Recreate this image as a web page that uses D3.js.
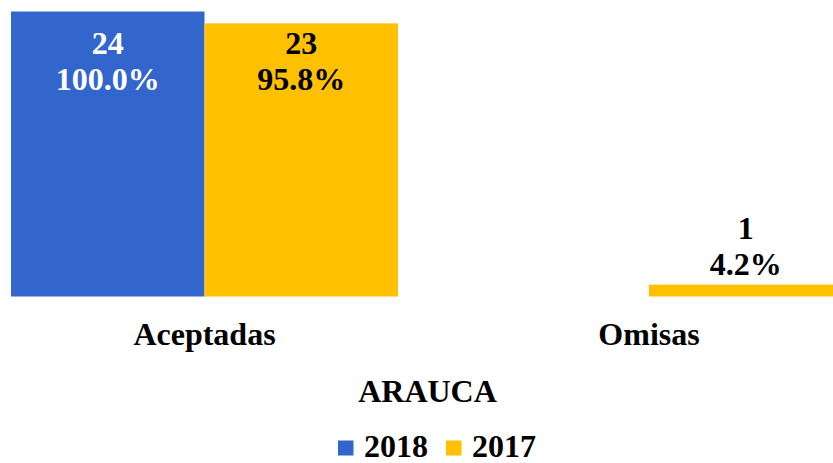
<!DOCTYPE html>
<html>
<head>
<meta charset="utf-8">
<script src="https://cdn.jsdelivr.net/npm/d3@7"></script>
<style>
  html, body { margin: 0; padding: 0; background: #fff; }
  svg { display: block; }
  svg text { font-family: "Liberation Serif", "Times New Roman", serif; font-weight: bold; }
</style>
</head>
<body>
<svg id="chart" width="833" height="463"></svg>
<script>
// Solicitudes por categoría, ARAUCA
const categories = ["Aceptadas", "Omisas"];
const seriesNames = ["2018", "2017"];
const values2018 = [24, 0];
const values2017 = [23, 1];
const pct2018 = ["100.0%", "0.0%"];
const pct2017 = ["95.8%", "4.2%"];
const colors = ["#3366CC", "#FFC000"];
const labelColors = ["#FFFFFF", "#000000"];
const chartTitle = "ARAUCA";

const series = [
  { name: seriesNames[0], values: values2018, pct: pct2018 },
  { name: seriesNames[1], values: values2017, pct: pct2017 }
];

const svg = d3.select("#chart");
const fontSize = 32;
const lineGap = 36;

const x0 = d3.scaleBand()
  .domain(categories)
  .range([-17.75, 871.25])
  .paddingInner(57.5 / 444.5)
  .paddingOuter(57.5 / 444.5 / 2);

const x1 = d3.scaleBand()
  .domain(seriesNames)
  .range([0, x0.bandwidth()]);

const yMax = d3.max([...values2018, ...values2017]);
const y = d3.scaleLinear()
  .domain([0, yMax])
  .range([296.5, 11.5]);

const groups = svg.append("g").selectAll("g")
  .data(categories)
  .join("g")
  .attr("transform", d => `translate(${x0(d)},0)`);

groups.selectAll("rect")
  .data((c, i) => series.map((s, k) => ({ s, k, v: s.values[i], p: s.pct[i] })))
  .join("rect")
  .attr("x", d => x1(d.s.name))
  .attr("width", x1.bandwidth())
  .attr("y", d => y(d.v))
  .attr("height", d => y(0) - y(d.v))
  .attr("fill", d => colors[d.k]);

// Data labels: count and percentage (inside tall bars, above short ones)
groups.each(function (c, i) {
  const g = d3.select(this);
  series.forEach((s, k) => {
    const v = s.values[i];
    if (v === 0) return;
    const cx = x1(s.name) + x1.bandwidth() / 2;
    const tall = (y(0) - y(v)) > 100;
    const fill = tall ? labelColors[k] : "#000";
    const top = tall ? Math.max(y(v) + 30, y(yMax) + 42.5) : y(v) - 9.5 - lineGap;
    const t = g.append("text")
      .attr("text-anchor", "middle")
      .attr("font-size", fontSize)
      .attr("fill", fill);
    t.append("tspan").attr("x", cx).attr("y", top).text(v);
    t.append("tspan").attr("x", cx).attr("y", top + lineGap).text(s.pct[i]);
  });
});

// Category labels
svg.append("g").selectAll("text")
  .data(categories)
  .join("text")
  .attr("x", d => x0(d) + x0.bandwidth() / 2)
  .attr("y", 345)
  .attr("text-anchor", "middle")
  .attr("font-size", fontSize)
  .text(d => d);

// Axis title
svg.append("text")
  .attr("x", 427.5)
  .attr("y", 402)
  .attr("text-anchor", "middle")
  .attr("font-size", fontSize)
  .text(chartTitle);

// Legend
const legend = svg.append("g");
const legendItems = [
  { name: seriesNames[0], color: colors[0], x: 338 },
  { name: seriesNames[1], color: colors[1], x: 446 }
];
legendItems.forEach(it => {
  legend.append("rect")
    .attr("x", it.x).attr("y", 440.5)
    .attr("width", 15.5).attr("height", 15)
    .attr("fill", it.color);
  legend.append("text")
    .attr("x", it.x + 26).attr("y", 457)
    .attr("font-size", fontSize)
    .text(it.name);
});
</script>
</body>
</html>
